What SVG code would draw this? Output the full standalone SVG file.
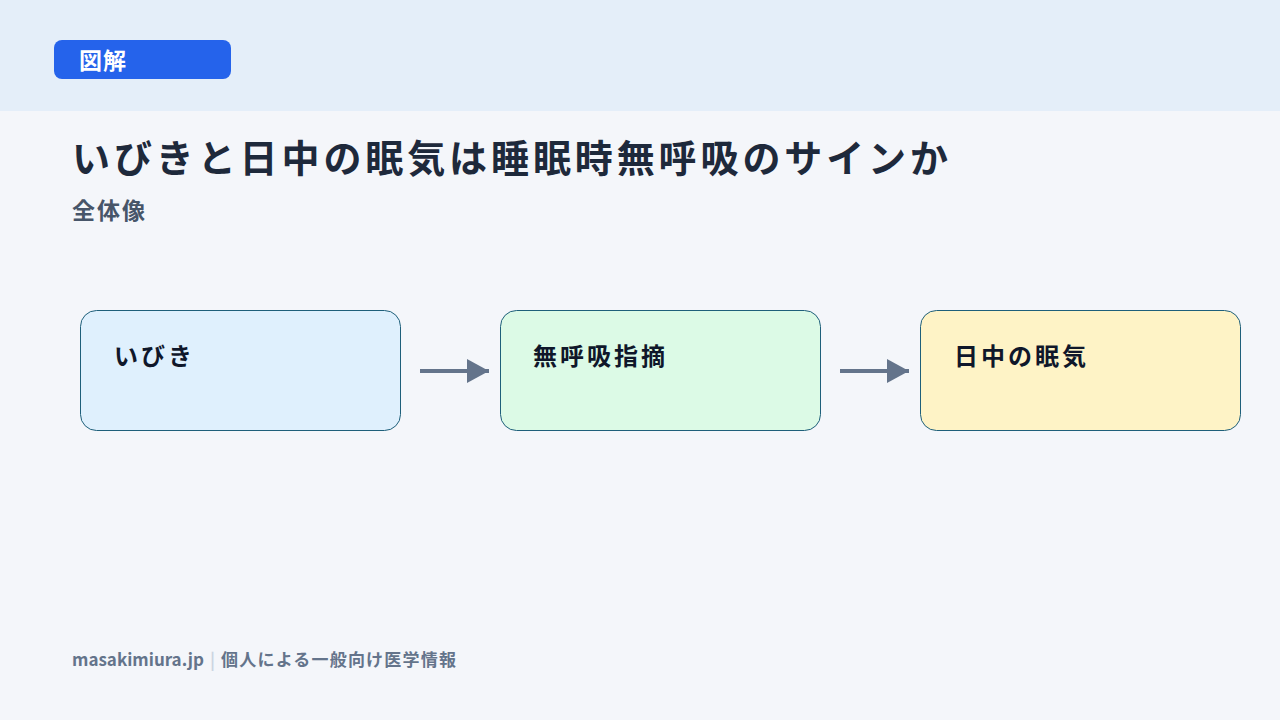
<svg xmlns="http://www.w3.org/2000/svg" width="1280" height="720" viewBox="0 0 1280 720">
<style>
text{font-family:"Noto Sans CJK JP","Noto Sans",sans-serif;}
.box{stroke:#1e5f7a;stroke-width:1;}
.lbl{font-size:24px;font-weight:700;fill:#0f172a;letter-spacing:3px;}
.conn{stroke:#64748b;stroke-width:4;fill:none;}
</style>
<defs>
<marker id="ah" markerWidth="6" markerHeight="6" refX="5.5" refY="3" orient="auto" markerUnits="strokeWidth"><path d="M0,0 L5.5,3 L0,6 Z" fill="#64748b"/></marker>
</defs>
<rect width="1280" height="720" fill="#f4f6fa"/>
<rect width="1280" height="111" fill="#e4eef9"/>
<rect x="54" y="40" width="177" height="39" rx="8" fill="#2563eb"/>
<text x="79" y="69" font-size="23" font-weight="700" fill="#fff" letter-spacing="1">図解</text>
<text x="72" y="172" font-size="38" font-weight="700" fill="#1e293b" letter-spacing="3.9">いびきと日中の眠気は睡眠時無呼吸のサインか</text>
<text x="72" y="219" font-size="23" font-weight="700" fill="#475569" letter-spacing="2">全体像</text>
<g id="n1"><rect class="box" x="80.5" y="310.5" width="320" height="120" rx="16" fill="#dff0fd"/><text class="lbl" x="114" y="365">いびき</text></g>
<g id="n2"><rect class="box" x="500.5" y="310.5" width="320" height="120" rx="16" fill="#dcfae6"/><text class="lbl" x="533" y="365">無呼吸指摘</text></g>
<g id="n3"><rect class="box" x="920.5" y="310.5" width="320" height="120" rx="16" fill="#fef3c6"/><text class="lbl" x="954" y="365">日中の眠気</text></g>
<g id="connectors">
<line class="conn" x1="420" y1="371" x2="489" y2="371" marker-end="url(#ah)"/>
<line class="conn" x1="840" y1="371" x2="909" y2="371" marker-end="url(#ah)"/>
</g>
<text x="72" y="666" font-size="17" font-weight="700" fill="#64748b">masakimiura.jp<tspan fill="#cbd5e1" dx="6">|</tspan><tspan dx="6" letter-spacing="1.2">個人による一般向け医学情報</tspan></text>
</svg>
